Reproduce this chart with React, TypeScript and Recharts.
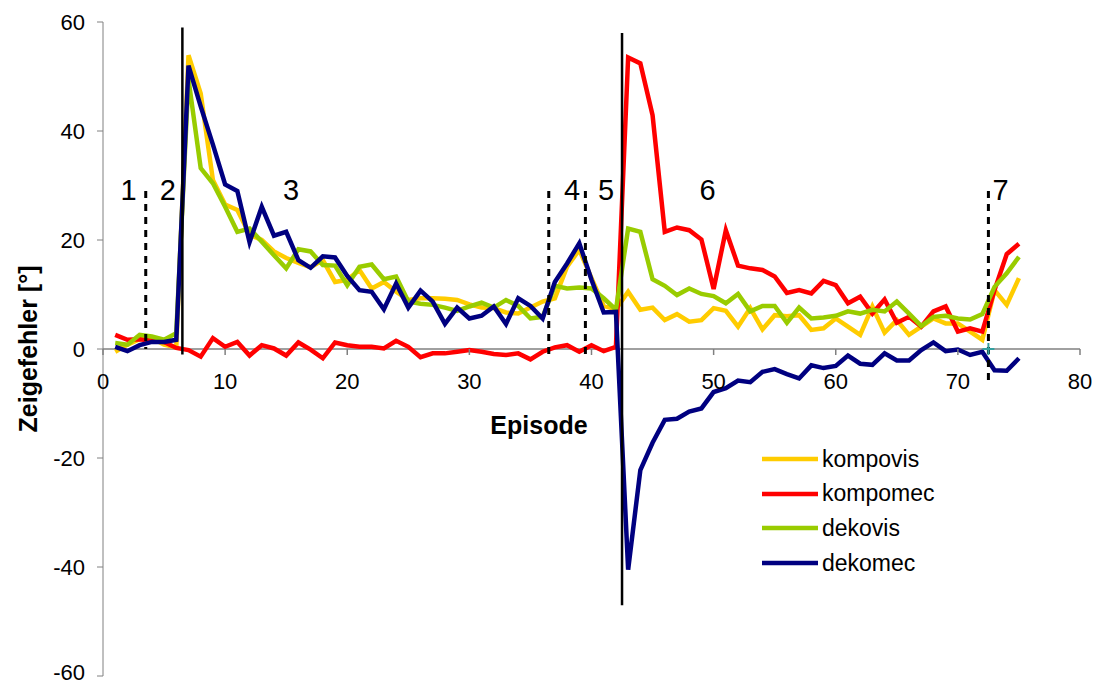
import React from "react";
import { LineChart, Line, XAxis, YAxis, ReferenceLine, ReferenceDot, Legend } from "recharts";

const FONT = "Arial, 'Liberation Sans', sans-serif";

// Episoden 1..75
const episodes = Array.from({ length: 75 }, (_, i) => i + 1);

const kompovis = [
  -0.5, 0.8, 1.8, 2.0, 0.8, 0.3, 53.9, 46.9, 31.0, 26.5,
  25.5, 21.0, 20.0, 17.9, 16.7, 15.8, 15.0, 16.3, 12.3, 12.7,
  14.5, 11.1, 12.3, 10.5, 9.0, 9.3, 9.3, 9.2, 9.0, 8.2,
  7.6, 7.5, 6.7, 6.5, 7.6, 8.7, 9.3, 15.1, 18.2, 13.0,
  7.9, 7.3, 10.5, 7.2, 7.6, 5.3, 6.4, 5.0, 5.3, 7.5,
  7.0, 4.1, 7.5, 3.6, 6.2, 6.0, 6.2, 3.5, 3.8, 5.6,
  4.1, 2.6, 7.8, 3.0, 5.3, 2.6, 4.1, 5.6, 4.7, 4.7,
  3.2, 1.7, 10.8, 8.1, 13.0,
];

const kompomec = [
  2.6, 1.7, 1.8, 1.5, 1.3, 0.2, -0.2, -1.4, 2.0, 0.4,
  1.3, -1.2, 0.7, 0.1, -1.2, 1.2, -0.1, -1.7, 1.2, 0.7,
  0.4, 0.4, 0.1, 1.5, 0.4, -1.5, -0.8, -0.8, -0.5, -0.2,
  -0.5, -0.9, -1.1, -0.8, -1.9, -0.5, 0.3, 0.7, -0.5, 0.7,
  -0.4, 0.4, 53.5, 52.4, 42.9, 21.5, 22.3, 21.8, 20.1, 11.0,
  21.8, 15.3, 14.8, 14.5, 13.3, 10.3, 10.8, 10.2, 12.5, 11.7,
  8.4, 9.6, 6.5, 9.1, 4.8, 5.9, 4.1, 6.9, 7.8, 3.2,
  3.8, 3.2, 10.8, 17.4, 19.3,
];

const dekovis = [
  1.1, 0.8, 2.6, 2.3, 1.7, 2.9, 49.5, 33.2, 30.4, 26.1,
  21.5, 22.1, 19.7, 17.2, 14.8, 18.3, 17.9, 15.4, 15.3, 11.7,
  15.1, 15.5, 12.8, 13.3, 8.7, 8.3, 8.1, 7.6, 7.0, 7.8,
  8.5, 7.6, 9.0, 7.9, 5.6, 5.9, 11.6, 11.1, 11.3, 11.1,
  9.3, 7.2, 22.1, 21.5, 12.8, 11.6, 9.9, 11.1, 10.1, 9.7,
  8.4, 10.1, 6.9, 7.9, 7.9, 4.8, 7.6, 5.6, 5.8, 6.1,
  6.9, 6.5, 7.2, 6.9, 8.7, 6.5, 4.2, 5.9, 6.1, 5.6,
  5.4, 6.4, 11.4, 13.9, 16.9,
];

const dekomec = [
  0.4, -0.4, 0.7, 1.3, 1.3, 1.7, 52.0, 44.5, 37.5, 30.2,
  29.0, 19.6, 26.1, 20.8, 21.5, 16.3, 14.9, 17.0, 16.8, 13.4,
  10.8, 10.5, 7.3, 12.0, 7.6, 10.7, 8.7, 4.6, 7.6, 5.6,
  6.1, 7.8, 4.6, 9.3, 7.9, 5.6, 12.3, 15.7, 19.4, 12.7,
  6.7, 6.8, -40.5, -22.2, -17.2, -13.0, -12.8, -11.5, -10.9, -7.9,
  -7.2, -5.8, -6.1, -4.2, -3.7, -4.6, -5.4, -3.0, -3.5, -3.1,
  -1.2, -2.7, -2.9, -0.8, -2.1, -2.1, -0.2, 1.2, -0.4, -0.1,
  -1.1, -0.5, -3.9, -4.0, -1.7,
];

const xTicks = [0, 10, 20, 30, 40, 50, 60, 70, 80];
const yTicks = [-60, -40, -20, 0, 20, 40, 60];

// Phasengrenzen: durchgezogen = Perturbation an/aus, gepunktet = Phasenwechsel
const solidBounds = [
  { x: 6.5, top: 59, bottom: -1 },
  { x: 42.5, top: 58, bottom: -47 },
];
const dottedBounds = [
  { x: 3.5, top: 29, bottom: 0 },
  { x: 36.5, top: 29, bottom: -1 },
  { x: 39.5, top: 29, bottom: -1 },
  { x: 72.5, top: 29, bottom: -6 },
];
const phaseLabels = [
  { text: "1", x: 2.1 },
  { text: "2", x: 5.3 },
  { text: "3", x: 15.4 },
  { text: "4", x: 38.4 },
  { text: "5", x: 41.2 },
  { text: "6", x: 49.5 },
  { text: "7", x: 73.5 },
];
const phaseLabelY = 29.2;

const data = episodes.map((ep, i) => ({
  ep,
  kompovis: kompovis[i],
  kompomec: kompomec[i],
  dekovis: dekovis[i],
  dekomec: dekomec[i],
}));

const series = [
  { key: "kompovis", color: "#FFCC00" },
  { key: "kompomec", color: "#FF0000" },
  { key: "dekovis", color: "#99CC00" },
  { key: "dekomec", color: "#000080" },
];

const AXIS = "#808080";

// Legende in der Reihenfolge der Serien (Recharts sortiert sonst um)
function LegendBox() {
  return (
    <div style={{ fontFamily: FONT }}>
      {series.map((s) => (
        <div key={s.key} style={{ display: "flex", alignItems: "center", height: 34.6 }}>
          <svg width={64} height={10}>
            <line x1={4} y1={5} x2={60} y2={5} stroke={s.color} strokeWidth={4.5} />
          </svg>
          <span style={{ fontSize: 23, color: "#000", lineHeight: "23px" }}>{s.key}</span>
        </div>
      ))}
    </div>
  );
}

// y-Tick: unterstes Label etwas angehoben, damit es nicht am Rand abgeschnitten wird
function YTick({ x, y, payload }: any) {
  const ty = Math.min(y, 672);
  return (
    <text x={x} y={ty} dy="0.355em" textAnchor="end" fontSize={22} fontFamily={FONT} fill="#000">
      {payload.value}
    </text>
  );
}

export default function App() {
  return (
    <div style={{ position: "absolute", left: 0, top: 0, width: 1098, height: 686, background: "#fff", fontFamily: FONT }}>
      <LineChart width={1098} height={686} data={data} margin={{ top: 22, right: 18, bottom: 10, left: 0 }}>
        <XAxis type="number" dataKey="ep" domain={[0, 80]} ticks={xTicks} hide />
        <YAxis
          type="number"
          domain={[-60, 60]}
          ticks={yTicks}
          interval={0}
          width={103}
          stroke={AXIS}
          tickSize={6}
          tickMargin={12}
          tick={<YTick />}
          label={(props: any) => {
            const vb = props.viewBox;
            const cx = vb.x + 28;
            const cy = vb.y + vb.height / 2;
            return (
              <text
                x={cx}
                y={cy}
                transform={`rotate(-90 ${cx} ${cy})`}
                textAnchor="middle"
                dominantBaseline="central"
                fontWeight="bold"
                fontSize={25}
                fontFamily={FONT}
                fill="#000"
              >
                Zeigefehler [°]
              </text>
            );
          }}
        />
        <ReferenceLine y={0} stroke={AXIS} strokeWidth={1.5} />
        {xTicks.map((t) => (
          <ReferenceDot
            key={`xt${t}`}
            x={t}
            y={0}
            r={0}
            shape={(p: any) => (
              <g>
                <line x1={p.cx} y1={p.cy} x2={p.cx} y2={p.cy + 6} stroke={AXIS} strokeWidth={1.5} />
                <text x={p.cx} y={p.cy + 40} textAnchor="middle" fontSize={22} fontFamily={FONT} fill="#000">
                  {t}
                </text>
              </g>
            )}
          />
        ))}
        <ReferenceDot
          x={35.7}
          y={-14}
          r={0}
          shape={(p: any) => (
            <text x={p.cx} y={p.cy} textAnchor="middle" dominantBaseline="central" fontWeight="bold" fontSize={25} fontFamily={FONT} fill="#000">
              Episode
            </text>
          )}
        />
        {series.map((s) => (
          <Line
            key={s.key}
            type="linear"
            dataKey={s.key}
            name={s.key}
            stroke={s.color}
            strokeWidth={4.5}
            dot={false}
            isAnimationActive={false}
          />
        ))}
        {solidBounds.map((b) => (
          <ReferenceLine
            key={`s${b.x}`}
            segment={[{ x: b.x, y: b.top }, { x: b.x, y: b.bottom }]}
            stroke="#000"
            strokeWidth={2.5}
          />
        ))}
        {dottedBounds.map((b) => (
          <ReferenceLine
            key={`d${b.x}`}
            segment={[{ x: b.x, y: b.top }, { x: b.x, y: b.bottom }]}
            stroke="#000"
            strokeWidth={3}
            strokeDasharray="7 6"
          />
        ))}
        {phaseLabels.map((l) => (
          <ReferenceDot
            key={`p${l.text}`}
            x={l.x}
            y={phaseLabelY}
            r={0}
            shape={(p: any) => (
              <text x={p.cx} y={p.cy} textAnchor="middle" dominantBaseline="central" fontSize={29} fontFamily={FONT} fill="#000">
                {l.text}
              </text>
            )}
          />
        ))}
        <ReferenceDot
          x={72.5}
          y={0}
          r={0}
          shape={(p: any) => (
            <g stroke="#33A0A0" strokeWidth={2}>
              <line x1={p.cx - 6} y1={p.cy} x2={p.cx + 6} y2={p.cy} />
              <line x1={p.cx} y1={p.cy - 6} x2={p.cx} y2={p.cy + 6} />
            </g>
          )}
        />
        <Legend
          layout="vertical"
          align="center"
          verticalAlign="middle"
          content={<LegendBox />}
          wrapperStyle={{ left: 758, top: 442, width: 220 }}
        />
      </LineChart>
    </div>
  );
}
